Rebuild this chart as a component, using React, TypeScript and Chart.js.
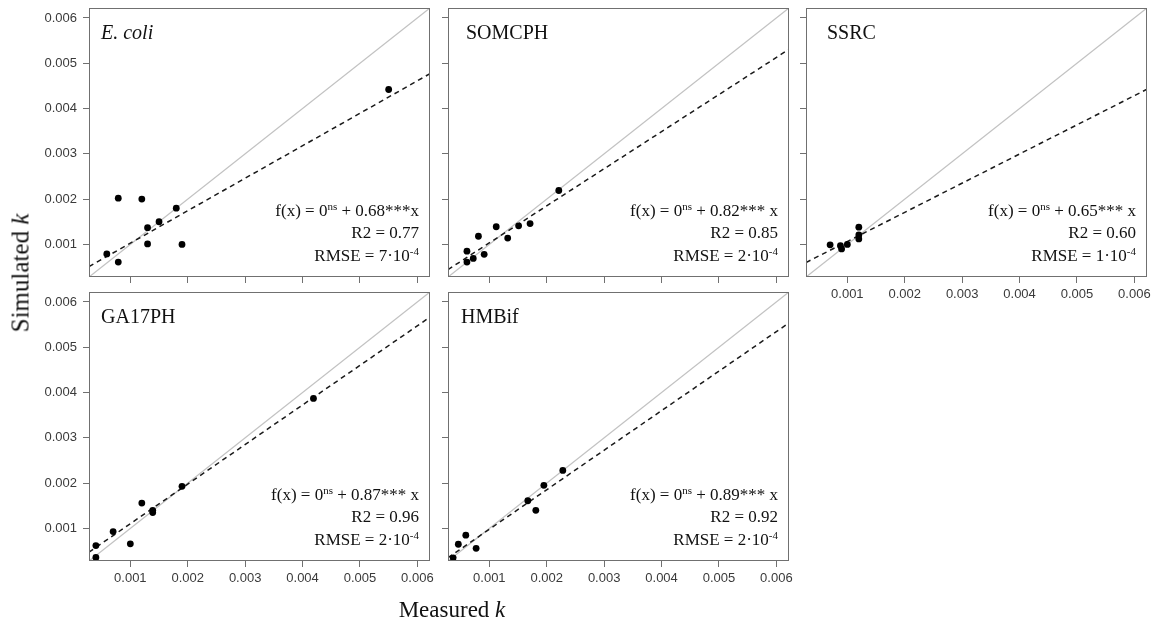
import React, { useEffect, useRef } from "react";
import { Chart, registerables } from "chart.js";

Chart.register(...registerables);

// ---------- data ----------
const AX_MIN = 0.00028;
const AX_MAX = 0.00622;
const TICK_VALUES = [0.001, 0.002, 0.003, 0.004, 0.005, 0.006];

const PANEL_NAMES = ["E. coli", "SOMCPH", "SSRC", "GA17PH", "HMBif"];
const PANEL_ITALIC = [true, false, false, false, false];

const ECOLI_X = [0.00059, 0.00079, 0.00079, 0.0012, 0.0013, 0.0013, 0.0015, 0.0018, 0.0019, 0.0055];
const ECOLI_Y = [0.00079, 0.00061, 0.00202, 0.002, 0.00137, 0.00101, 0.0015, 0.0018, 0.001, 0.00442];

const SOMCPH_X = [0.00061, 0.00061, 0.00072, 0.00081, 0.00091, 0.00112, 0.00132, 0.00151, 0.00171, 0.00221];
const SOMCPH_Y = [0.00085, 0.00061, 0.00069, 0.00118, 0.00078, 0.00139, 0.00114, 0.00141, 0.00146, 0.00219];

const SSRC_X = [0.0007, 0.00088, 0.0009, 0.001, 0.0012, 0.0012, 0.0012];
const SSRC_Y = [0.00099, 0.00097, 0.0009, 0.001, 0.00138, 0.00121, 0.00112];

const GA17PH_X = [0.0004, 0.0004, 0.0007, 0.001, 0.0012, 0.00139, 0.00139, 0.0019, 0.00419];
const GA17PH_Y = [0.00062, 0.00036, 0.00093, 0.00066, 0.00156, 0.0014, 0.00135, 0.00193, 0.00387];

const HMBIF_X = [0.00037, 0.00046, 0.00059, 0.00077, 0.00167, 0.00181, 0.00195, 0.00228];
const HMBIF_Y = [0.00035, 0.00065, 0.00085, 0.00056, 0.00161, 0.0014, 0.00195, 0.00228];

const FIT_INTERCEPT = [0.00031, 0.000214, 0.00042, 0.00023, 0.000108];
const FIT_SLOPE = [0.717, 0.819, 0.644, 0.874, 0.873];

const SLOPE_LABELS = ["0.68***x", "0.82*** x", "0.65*** x", "0.87*** x", "0.89*** x"];
const R2_LABELS = ["0.77", "0.85", "0.60", "0.96", "0.92"];
const RMSE_MANTISSA = ["7", "2", "1", "2", "2"];

const PANEL_X = [ECOLI_X, SOMCPH_X, SSRC_X, GA17PH_X, HMBIF_X];
const PANEL_Y = [ECOLI_Y, SOMCPH_Y, SSRC_Y, GA17PH_Y, HMBIF_Y];

// ---------- layout ----------
const COL_LEFT = [89, 448, 806];
const ROW_TOP = [8, 292];
const AREA_W = 341;
const AREA_H = 269;
const PANEL_COL = [0, 1, 2, 0, 1];
const PANEL_ROW = [0, 0, 0, 1, 1];
const TITLE_DX = [12, 18, 21, 12, 13];
const AX_L = 62;
const AX_B = 36;
const PAD_T = 4;
const PAD_R = 16;

const SERIF = "'Liberation Serif', 'Times New Roman', serif";
const SANS = "'Liberation Sans', Arial, Helvetica, sans-serif";

type Seg = { t: string; sup?: boolean };

function drawRich(ctx: CanvasRenderingContext2D, segs: Seg[], xRight: number, baseline: number) {
  const main = `17px ${SERIF}`;
  const small = `11px ${SERIF}`;
  let total = 0;
  const widths: number[] = [];
  for (const s of segs) {
    ctx.font = s.sup ? small : main;
    const w = ctx.measureText(s.t).width;
    widths.push(w);
    total += w;
  }
  let x = xRight - total;
  ctx.textAlign = "left";
  ctx.textBaseline = "alphabetic";
  segs.forEach((s, i) => {
    ctx.font = s.sup ? small : main;
    ctx.fillText(s.t, x, s.sup ? baseline - 6 : baseline);
    x += widths[i];
  });
}

function Panel({ idx }: { idx: number }) {
  const ref = useRef<HTMLCanvasElement | null>(null);
  const col = PANEL_COL[idx];
  const row = PANEL_ROW[idx];
  const showY = col === 0;
  const showX = row === 1 || col === 2;
  const cw = AX_L + AREA_W + PAD_R;
  const ch = PAD_T + AREA_H + AX_B;

  useEffect(() => {
    if (!ref.current) return;
    const points = PANEL_X[idx].map((x, i) => ({ x, y: PANEL_Y[idx][i] }));
    const a = FIT_INTERCEPT[idx];
    const b = FIT_SLOPE[idx];
    const fit = [AX_MIN, AX_MAX].map((x) => ({ x, y: a + b * x }));
    const ident = [AX_MIN, AX_MAX].map((x) => ({ x, y: x }));

    const panelPlugin = {
      id: "panelDecor",
      afterDraw(chart: any) {
        const { ctx, chartArea } = chart;
        const { left, right, top, bottom } = chartArea;
        ctx.save();
        ctx.strokeStyle = "#707070";
        ctx.lineWidth = 1;
        ctx.strokeRect(Math.round(left) + 0.5, Math.round(top) + 0.5, Math.round(right - left) - 1, Math.round(bottom - top) - 1);
        ctx.fillStyle = "#111";
        ctx.font = `${PANEL_ITALIC[idx] ? "italic " : ""}20px ${SERIF}`;
        ctx.textAlign = "left";
        ctx.textBaseline = "alphabetic";
        ctx.fillText(PANEL_NAMES[idx], left + TITLE_DX[idx], top + 31);
        const xr = right - 11;
        drawRich(ctx, [{ t: "f(x) = 0" }, { t: "ns", sup: true }, { t: " + " + SLOPE_LABELS[idx] }], xr, bottom - 61);
        drawRich(ctx, [{ t: "R2 = " + R2_LABELS[idx] }], xr, bottom - 39);
        drawRich(ctx, [{ t: "RMSE = " + RMSE_MANTISSA[idx] + "·10" }, { t: "-4", sup: true }], xr, bottom - 16.5);
        ctx.restore();
      },
    };

    const tickFont = { family: SANS, size: 13 };
    const chart = new Chart(ref.current, {
      type: "scatter",
      data: {
        datasets: [
          {
            data: points,
            showLine: false,
            pointRadius: 3.4,
            pointBackgroundColor: "#000",
            pointBorderColor: "#000",
            pointBorderWidth: 0,
          },
          {
            data: fit,
            showLine: true,
            borderColor: "#1a1a1a",
            borderWidth: 1.5,
            borderDash: [5, 4],
            pointRadius: 0,
            fill: false,
          },
          {
            data: ident,
            showLine: true,
            borderColor: "#c2c2c2",
            borderWidth: 1.3,
            pointRadius: 0,
            fill: false,
          },
        ],
      } as any,
      options: {
        animation: false,
        responsive: false,
        maintainAspectRatio: false,
        events: [],
        layout: { padding: { top: PAD_T, right: PAD_R, left: 0, bottom: 0 } },
        plugins: { legend: { display: false }, tooltip: { enabled: false }, title: { display: false } },
        scales: {
          x: {
            type: "linear",
            min: AX_MIN,
            max: AX_MAX,
            afterBuildTicks: (s: any) => {
              s.ticks = TICK_VALUES.map((v) => ({ value: v }));
            },
            afterFit: (s: any) => {
              s.height = AX_B;
              s.paddingLeft = 0;
              s.paddingRight = 0;
            },
            grid: { drawOnChartArea: false, drawTicks: true, tickLength: 6, color: "#707070", lineWidth: 1 },
            border: { display: false },
            ticks: {
              autoSkip: false,
              maxRotation: 0,
              padding: 4,
              color: "#3a3a3a",
              font: tickFont,
              callback: (v: any) => (showX ? Number(v).toFixed(3) : ""),
            },
          },
          y: {
            type: "linear",
            min: AX_MIN,
            max: AX_MAX,
            afterBuildTicks: (s: any) => {
              s.ticks = TICK_VALUES.map((v) => ({ value: v }));
            },
            afterFit: (s: any) => {
              s.width = AX_L;
              s.paddingTop = 0;
              s.paddingBottom = 0;
            },
            grid: { drawOnChartArea: false, drawTicks: true, tickLength: 6, color: "#707070", lineWidth: 1 },
            border: { display: false },
            ticks: {
              autoSkip: false,
              padding: 6,
              color: "#3a3a3a",
              font: tickFont,
              callback: (v: any) => (showY ? Number(v).toFixed(3) : ""),
            },
          },
        },
      } as any,
      plugins: [panelPlugin],
    });
    return () => chart.destroy();
  }, [idx]);

  return (
    <canvas
      ref={ref}
      width={cw}
      height={ch}
      style={{
        position: "absolute",
        left: COL_LEFT[col] - AX_L,
        top: ROW_TOP[row] - PAD_T,
        width: cw,
        height: ch,
      }}
    />
  );
}

export default function App() {
  return (
    <div style={{ position: "absolute", left: 0, top: 0, width: 1160, height: 620, background: "#fff", overflow: "hidden" }}>
      {PANEL_NAMES.map((_, i) => (
        <Panel key={i} idx={i} />
      ))}
      <div
        style={{
          position: "absolute",
          left: 20,
          top: 273,
          transform: "translate(-50%, -50%) rotate(-90deg)",
          whiteSpace: "nowrap",
          fontFamily: SERIF,
          fontSize: 25,
          lineHeight: "25px",
          color: "#111",
        }}
      >
        Simulated <i>k</i>
      </div>
      <div
        style={{
          position: "absolute",
          left: 452,
          top: 598,
          transform: "translateX(-50%)",
          whiteSpace: "nowrap",
          fontFamily: SERIF,
          fontSize: 23,
          lineHeight: "23px",
          color: "#111",
        }}
      >
        Measured <i>k</i>
      </div>
    </div>
  );
}
